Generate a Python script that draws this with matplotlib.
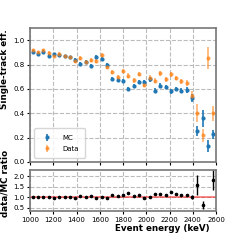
import numpy as np
import matplotlib
matplotlib.use('Agg')
import matplotlib.pyplot as plt

# bin centres (keV), 35 bins between 1000 and 2600
energy = [1023, 1069, 1114, 1160, 1206, 1251, 1297, 1343, 1389, 1434,
          1480, 1526, 1571, 1617, 1663, 1709, 1754, 1800, 1846, 1891,
          1937, 1983, 2029, 2074, 2120, 2166, 2211, 2257, 2303, 2349,
          2394, 2440, 2486, 2531, 2577]

# single-track efficiency, simulation
mc_eff = [0.905, 0.89, 0.905, 0.873, 0.886, 0.878, 0.87, 0.862, 0.84, 0.805,
          0.82, 0.786, 0.86, 0.85, 0.80, 0.68, 0.675, 0.667, 0.60, 0.624,
          0.657, 0.657, 0.68, 0.586, 0.627, 0.616, 0.58, 0.60, 0.586, 0.59,
          0.524, 0.254, 0.36, 0.13, 0.226]
mc_err = [0.012, 0.012, 0.012, 0.012, 0.012, 0.012, 0.012, 0.012, 0.014, 0.014,
          0.014, 0.015, 0.015, 0.015, 0.016, 0.018, 0.018, 0.018, 0.018, 0.018,
          0.018, 0.02, 0.02, 0.02, 0.02, 0.02, 0.02, 0.02, 0.02, 0.022,
          0.035, 0.04, 0.07, 0.05, 0.035]

# single-track efficiency, measured
data_eff = [0.92, 0.90, 0.92, 0.897, 0.873, 0.889, 0.87, 0.862, 0.827, 0.854,
            0.824, 0.838, 0.832, 0.88, 0.78, 0.74, 0.70, 0.749, 0.71, 0.67,
            0.724, 0.632, 0.692, 0.667, 0.73, 0.68, 0.72, 0.69, 0.662, 0.65,
            0.546, 0.40, 0.22, 0.857, 0.40]
data_err = [0.012, 0.012, 0.012, 0.012, 0.012, 0.012, 0.012, 0.012, 0.014, 0.014,
            0.014, 0.015, 0.015, 0.015, 0.016, 0.018, 0.018, 0.018, 0.018, 0.018,
            0.018, 0.02, 0.02, 0.02, 0.02, 0.02, 0.02, 0.02, 0.02, 0.022,
            0.035, 0.073, 0.052, 0.09, 0.06]

# data/MC ratio (bin at 2531 is off scale)
ratio = [1.02, 1.01, 1.02, 1.03, 0.985, 1.01, 1.0, 1.0, 0.98, 1.06,
         1.0, 1.07, 0.97, 1.035, 0.975, 1.09, 1.04, 1.12, 1.18, 1.08,
         1.10, 0.97, 1.03, 1.15, 1.16, 1.10, 1.24, 1.15, 1.13, 1.10,
         1.03, 1.60, 0.62, 6.6, 1.82]
ratio_err = [0.02, 0.02, 0.02, 0.02, 0.02, 0.02, 0.02, 0.02, 0.025, 0.025,
             0.025, 0.025, 0.025, 0.025, 0.03, 0.035, 0.035, 0.035, 0.04, 0.04,
             0.04, 0.04, 0.04, 0.045, 0.045, 0.045, 0.045, 0.045, 0.045, 0.05,
             0.09, 0.47, 0.2, 2.5, 0.48]

plt.rcParams['font.family'] = 'DejaVu Sans'
plt.rcParams['axes.edgecolor'] = '#777777'
plt.rcParams['axes.linewidth'] = 1.2

fig = plt.figure(figsize=(2.4, 2.4), dpi=100)
ax = fig.add_axes([0.125, 0.325, 0.775, 0.558])
axr = fig.add_axes([0.125, 0.121, 0.775, 0.171], sharex=ax)

ax.errorbar(energy, mc_eff, yerr=mc_err, fmt='o', ms=2, elinewidth=1.2,
            color='tab:blue', label='MC')
ax.errorbar(energy, data_eff, yerr=data_err, fmt='o', ms=2, elinewidth=1.2,
            color='tab:orange', alpha=0.6, label='Data')
ax.set_xlim(1000, 2600)
ax.set_ylim(0, 1.1)
ax.set_yticks([0.0, 0.2, 0.4, 0.6, 0.8, 1.0])
ax.set_ylabel('Single-track eff.', fontsize=6.3, fontweight='bold', labelpad=3, y=0.69)
ax.grid(True, ls='--', color='#bbbbbb', lw=0.8)
ax.tick_params(labelsize=5, length=2.5, pad=1.5, labelbottom=False)
ax.legend(loc='lower left', fontsize=5, handlelength=2, borderpad=0.9,
          labelspacing=0.7, handletextpad=1.2, borderaxespad=0.6)

axr.errorbar(energy, ratio, yerr=ratio_err, fmt='o', ms=1.6, elinewidth=1.0,
             color='black')
axr.axhline(1.0, color='red', alpha=0.55, lw=1.2)
axr.set_ylim(0.35, 2.3)
axr.set_yticks([0.5, 1.0, 1.5, 2.0])
axr.set_xticks(np.arange(1000, 2601, 200))
axr.set_ylabel('data/MC ratio', fontsize=6.3, fontweight='bold', labelpad=3, y=0.68)
axr.set_xlabel('Event energy (keV)', fontsize=6.3, fontweight='bold', labelpad=1, x=0.71)
axr.grid(True, ls='--', color='#bbbbbb', lw=0.8)
axr.tick_params(labelsize=5, length=2.5, pad=1.5)

fig.savefig('out.png', dpi=100)
